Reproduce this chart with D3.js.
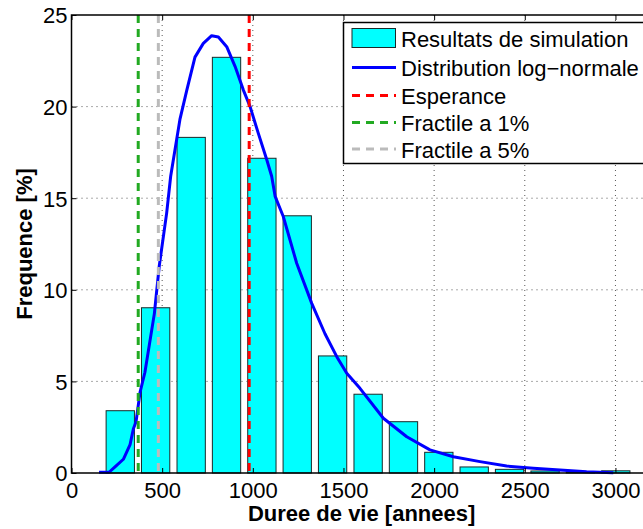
<!DOCTYPE html>
<html>
<head>
<meta charset="utf-8">
<script src="https://cdn.jsdelivr.net/npm/d3@7/dist/d3.min.js"></script>
<style>
  body { margin: 0; background: #fff; }
  text { font-family: "Liberation Sans", Arial, Helvetica, sans-serif; }
</style>
</head>
<body>
<div id="chart"></div>
<script>
 //histogram bins (bin centres in years) and frequencies in %
 var binCenters = [269, 464, 660, 855, 1050, 1245, 1440, 1636, 1831, 2026, 2221, 2416, 2612, 2807, 3002];
 var binFreq = [3.4, 9.02, 18.32, 22.69, 17.18, 14.04, 6.39, 4.30, 2.80, 1.13, 0.33, 0.20, 0.11, 0.06, 0.12];
 var binWidth = 195.2;

 //log-normal fit
 var curveX = [152, 207, 240, 286, 323, 341, 356, 378, 405, 457, 484, 525, 547, 598, 636, 681, 727, 773, 810, 856, 902, 948, 985, 1030, 1077, 1104, 1123, 1168, 1242, 1325, 1398, 1463, 1518, 1591, 1720, 1849, 1977, 2106, 2253, 2400, 2547, 2694, 2841, 2988];
 var curveY = [0.04, 0.04, 0.34, 0.75, 1.55, 2.4, 2.8, 4.4, 5.5, 8.7, 11.3, 14.2, 16.2, 19.3, 20.9, 22.7, 23.45, 23.87, 23.8, 23.27, 22.2, 20.9, 20.0, 18.55, 17.1, 16.2, 15.1, 14.0, 11.45, 9.26, 7.6, 6.35, 5.44, 4.62, 2.99, 1.98, 1.26, 0.89, 0.62, 0.38, 0.26, 0.16, 0.07, 0.02];

 //vertical markers
 var esperance = 980;
 var fractile1 = 368;
 var fractile5 = 479;

 var xTicks = [0, 500, 1000, 1500, 2000, 2500, 3000];
 var yTicks = [0, 5, 10, 15, 20, 25];

 var legendLabels = ["Resultats de simulation", "Distribution log\u2212normale", "Esperance", "Fractile a 1%", "Fractile a 5%"];

 //layout
 var W = 643, H = 529;
 var margin = { left: 71.5, right: 651.7, top: 15, bottom: 473 };

 var svg = d3.select("#chart")
     .append("svg")
     .attr("width", W)
     .attr("height", H);

 var xScale = d3.scaleLinear().domain([0, 3200]).range([margin.left, margin.right]);
 var yScale = d3.scaleLinear().domain([0, 25]).range([margin.bottom, margin.top]);

 //grid (dotted, under the bars)
 var grid = svg.append("g").attr("stroke", "#555").attr("stroke-width", 1).attr("stroke-dasharray", "1,4");
 grid.selectAll(".gx")
     .data(xTicks.slice(1))
     .enter()
     .append("line")
     .attr("x1", function (d) { return xScale(d); })
     .attr("x2", function (d) { return xScale(d); })
     .attr("y1", margin.top)
     .attr("y2", margin.bottom);
 grid.selectAll(".gy")
     .data(yTicks.slice(1, -1))
     .enter()
     .append("line")
     .attr("x1", margin.left)
     .attr("x2", margin.right)
     .attr("y1", function (d) { return yScale(d); })
     .attr("y2", function (d) { return yScale(d); });

 //bars
 svg.append("g").selectAll("rect")
     .data(binCenters)
     .enter()
     .append("rect")
     .attr("x", function (d) { return xScale(d - binWidth * 0.4); })
     .attr("width", function (d) { return xScale(d + binWidth * 0.4) - xScale(d - binWidth * 0.4); })
     .attr("y", function (d, i) { return yScale(binFreq[i]); })
     .attr("height", function (d, i) { return yScale(0) - yScale(binFreq[i]); })
     .attr("fill", "#00ffff")
     .attr("stroke", "#1a2a2a")
     .attr("stroke-width", 1);

 //log-normal curve
 var line = d3.line()
     .x(function (d, i) { return xScale(curveX[i]); })
     .y(function (d) { return yScale(d); });
 svg.append("path")
     .datum(curveY)
     .attr("d", line)
     .attr("fill", "none")
     .attr("stroke", "#0000ff")
     .attr("stroke-width", 3)
     .attr("stroke-linejoin", "round");

 //vertical dashed lines
 var vlines = [
     { v: esperance, c: "#ff0000" },
     { v: fractile1, c: "#22aa22" },
     { v: fractile5, c: "#bbbbbb" }
 ];
 svg.append("g").selectAll("line")
     .data(vlines)
     .enter()
     .append("line")
     .attr("x1", function (d) { return xScale(d.v); })
     .attr("x2", function (d) { return xScale(d.v); })
     .attr("y1", margin.top)
     .attr("y2", margin.bottom)
     .attr("stroke", function (d) { return d.c; })
     .attr("stroke-width", 3)
     .attr("stroke-dasharray", "8,6");

 //axes (ticks inward)
 var xAxis = d3.axisBottom(xScale).tickValues(xTicks).tickSize(-5).tickPadding(9).tickFormat(d3.format("d"));
 var xAxisTop = d3.axisTop(xScale).tickValues(xTicks).tickSize(-5).tickFormat("");
 var yAxis = d3.axisLeft(yScale).tickValues(yTicks).tickSize(-5).tickPadding(4);

 var gx = svg.append("g")
     .attr("transform", "translate(0," + margin.bottom + ")")
     .call(xAxis);
 var gxt = svg.append("g")
     .attr("transform", "translate(0," + margin.top + ")")
     .call(xAxisTop);
 var gy = svg.append("g")
     .attr("transform", "translate(" + margin.left + ",0)")
     .call(yAxis);

 [gx, gxt, gy].forEach(function (g) {
     g.select(".domain").remove();
     g.selectAll(".tick line").attr("stroke", "#000").attr("stroke-width", 1);
     g.selectAll("text").attr("font-size", "22px").attr("fill", "#000")
         .style("font-family", "'Liberation Sans', Arial, Helvetica, sans-serif");
 });
 gy.selectAll("text").attr("dy", "0.36em");

 //frame
 svg.append("path")
     .attr("d", "M" + margin.right + "," + margin.top + "H" + margin.left + "V" + margin.bottom + "H" + margin.right)
     .attr("fill", "none")
     .attr("stroke", "#000")
     .attr("stroke-width", 1.5);

 //axis labels
 svg.append("text")
     .attr("x", (margin.left + margin.right) / 2)
     .attr("y", 521)
     .attr("text-anchor", "middle")
     .attr("font-size", "22px")
     .attr("font-weight", "bold")
     .text("Duree de vie [annees]");

 svg.append("text")
     .attr("transform", "translate(32," + (margin.top + margin.bottom) / 2 + ") rotate(-90)")
     .attr("text-anchor", "middle")
     .attr("font-size", "22px")
     .attr("font-weight", "bold")
     .text("Frequence [%]");

 //legend
 var legend = svg.append("g");
 legend.append("rect")
     .attr("x", 343.5)
     .attr("y", 22.5)
     .attr("width", 320)
     .attr("height", 141)
     .attr("fill", "#fff")
     .attr("stroke", "#000")
     .attr("stroke-width", 1.5);

 var rowY = [38, 67.5, 95.5, 122.5, 149];
 legend.append("rect")
     .attr("x", 352)
     .attr("y", 28.5)
     .attr("width", 43.5)
     .attr("height", 19)
     .attr("fill", "#00ffff")
     .attr("stroke", "#1a2a2a")
     .attr("stroke-width", 1);

 var legendLines = [
     { c: "#0000ff", dash: null },
     { c: "#ff0000", dash: "8,6" },
     { c: "#22aa22", dash: "8,6" },
     { c: "#bbbbbb", dash: "8,6" }
 ];
 legend.selectAll(".ll")
     .data(legendLines)
     .enter()
     .append("line")
     .attr("x1", 352)
     .attr("x2", 396)
     .attr("y1", function (d, i) { return rowY[i + 1]; })
     .attr("y2", function (d, i) { return rowY[i + 1]; })
     .attr("stroke", function (d) { return d.c; })
     .attr("stroke-width", 3)
     .attr("stroke-dasharray", function (d) { return d.dash; });

 legend.selectAll(".lt")
     .data(legendLabels)
     .enter()
     .append("text")
     .attr("x", 401)
     .attr("y", function (d, i) { return rowY[i] + 8.5; })
     .attr("font-size", "22px")
     .attr("fill", "#000")
     .text(function (d) { return d; });
</script>
</body>
</html>
